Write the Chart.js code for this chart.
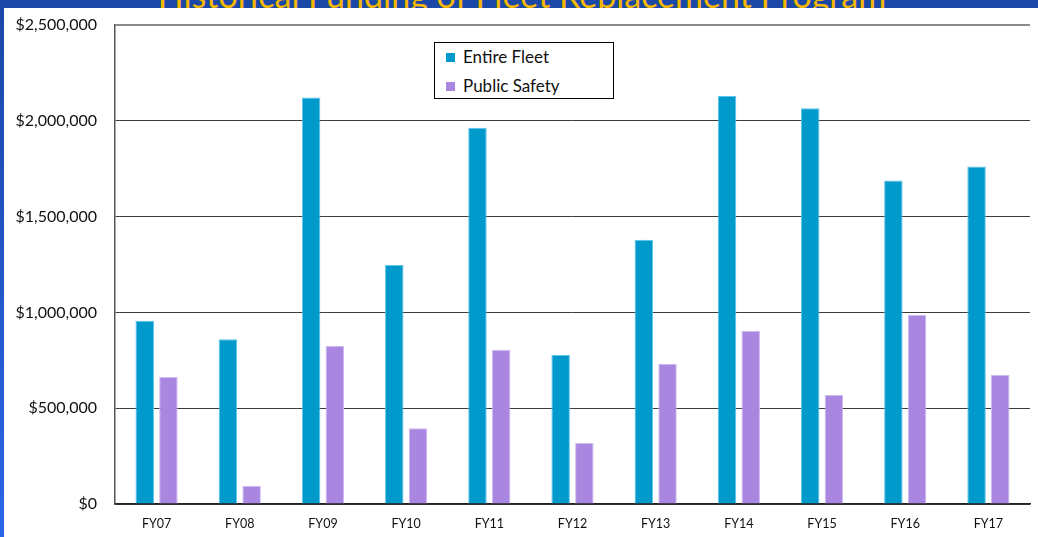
<!DOCTYPE html>
<html>
<head>
<meta charset="utf-8">
<script src="https://cdn.jsdelivr.net/npm/chart.js@4"></script>
<style>
  html, body { margin: 0; padding: 0; }
  body {
    width: 1038px; height: 537px; overflow: hidden; position: relative;
    background: linear-gradient(180deg, #1b47a6 0%, #2a66e8 100%);
    font-family: Lato, "Liberation Sans", sans-serif;
  }
  #title {
    position: absolute; left: 0; top: -22px; width: 1044px; text-align: center;
    font-size: 34px; line-height: 34px; color: #f5b800; white-space: nowrap;
  }
  #panel {
    position: absolute; left: 4px; top: 8px; width: 1034px; height: 529px;
    background: #fff;
  }
  #legend {
    position: absolute; left: 430px; top: 34px; width: 178px; height: 55px;
    border: 1px solid #000; background: #fff;
  }
  .item { position: absolute; left: 11px; font-size: 17px; color: #111; line-height: 20px; }
  .item span.sw { display: inline-block; width: 9px; height: 9px; margin-right: 8px; vertical-align: 1px; }
</style>
</head>
<body>
<div id="title">Historical Funding of Fleet Replacement Program</div>
<div id="panel">
  <canvas id="fundingChart" width="1034" height="529"></canvas>
  <div id="legend"></div>
</div>
<script>
document.addEventListener('DOMContentLoaded', function() {

    // Anos fiscais
    const fiscalYears = ['FY07', 'FY08', 'FY09', 'FY10', 'FY11', 'FY12', 'FY13', 'FY14', 'FY15', 'FY16', 'FY17'];

    // Valores
    const entireFleet = [956000, 860000, 2121000, 1247000, 1964000, 778000, 1379000, 2130000, 2065000, 1688000, 1761000];
    const publicSafety = [663000, 94000, 825000, 395000, 805000, 319000, 731000, 904000, 569000, 987000, 674000];

    const yTicks = [0, 500000, 1000000, 1500000, 2000000, 2500000];

    const fmt = v => '$' + v.toLocaleString('en-US');

    const dados = {
        labels: fiscalYears,
        datasets: [{
            label: 'Entire Fleet',
            data: entireFleet,
            backgroundColor: '#0099cc',
            borderColor: '#5cc6ea',
            borderWidth: 1,
            categoryPercentage: 0.57,
            barPercentage: 0.78
        }, {
            label: 'Public Safety',
            data: publicSafety,
            backgroundColor: '#a986e0',
            borderColor: '#cdb9f0',
            borderWidth: 1,
            categoryPercentage: 0.57,
            barPercentage: 0.78
        }]
    };

    const config = {
        type: 'bar',
        data: dados,
        options: {
            responsive: false,
            animation: false,
            layout: { padding: { top: 17, right: 8, left: 0, bottom: 0 } },
            scales: {
                x: {
                    grid: { display: false, drawTicks: false },
                    border: { display: true, color: '#222', width: 1.5 },
                    ticks: { color: '#111', font: { family: 'Lato', size: 12.5 }, padding: 12 },
                    afterFit: s => { s.height = 33; }
                },
                y: {
                    min: 0,
                    max: 2500000,
                    afterBuildTicks: s => { s.ticks = yTicks.map(v => ({ value: v })); },
                    grid: {
                        drawTicks: false,
                        color: c => c.tick && c.tick.value === 2500000 ? '#8a8a8a' : '#3c3c3c',
                        lineWidth: c => c.tick && c.tick.value === 2500000 ? 2 : 1
                    },
                    border: { display: true, color: '#555', width: 1.5 },
                    ticks: {
                        color: '#111',
                        font: { family: 'Lato', size: 16 },
                        padding: 18,
                        callback: v => fmt(v)
                    },
                    afterFit: s => {
                        s.width = 111;
                        s.paddingTop = 0;
                        s.paddingBottom = 0;
                    }
                }
            },
            plugins: {
                legend: { display: false },
                tooltip: { enabled: false }
            }
        }
    };

    const ctx = document.getElementById('fundingChart').getContext('2d');
    const chart = new Chart(ctx, config);

    // Legenda em HTML a partir dos datasets
    const legend = document.getElementById('legend');
    chart.data.datasets.forEach((ds, i) => {
        const el = document.createElement('div');
        el.className = 'item';
        el.style.top = (4 + i * 29) + 'px';
        el.innerHTML = '<span class="sw" style="background:' + ds.backgroundColor + '"></span>' + ds.label;
        legend.appendChild(el);
    });
});
</script>
</body>
</html>
